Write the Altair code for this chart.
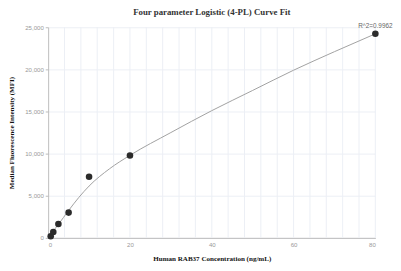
import altair as alt
import pandas as pd

# measured points
conc = [0.625, 1.25, 2.5, 5, 10, 20, 80]
mfi = [200, 700, 1650, 3000, 7250, 9780, 24220]

# fitted curve
curve_x = [0, 0.5, 1, 2.5, 5, 7.5, 10, 15, 20, 30, 40, 50, 60, 70, 80]
curve_y = [0, 300, 650, 1600, 3250, 4800, 6150, 8200, 9800, 12500, 15100, 17500, 19900, 22100, 24220]

x_ticks = [0, 20, 40, 60, 80]
x_grid = list(range(4, 81, 4))
y_ticks = [0, 5000, 10000, 15000, 20000, 25000]

r2_label = ["R^2=0.9962"]

pts = pd.DataFrame({"x": conc, "y": mfi})
crv = pd.DataFrame({"x": curve_x, "y": curve_y})
grid = pd.DataFrame({"x": x_grid})
lab = pd.DataFrame({"x": [conc[-1]], "y": [mfi[-1]], "t": r2_label})

x_scale = alt.Scale(domain=[0, 80], nice=False)
y_scale = alt.Scale(domain=[0, 25000], nice=False)

vgrid = alt.Chart(grid).mark_rule(color="#eceff5", strokeWidth=1).encode(
    x=alt.X("x:Q", scale=x_scale,
            axis=alt.Axis(values=x_ticks, title="Human RAB37 Concentration (ng/mL)", tickSize=0,
                          labelPadding=4, grid=False, titlePadding=7)),
    y=alt.value(0), y2=alt.value(215))

line = alt.Chart(crv).mark_line(color="#a0a0a0", strokeWidth=1, interpolate="monotone").encode(
    x=alt.X("x:Q", scale=x_scale),
    y=alt.Y("y:Q", scale=y_scale,
            axis=alt.Axis(values=y_ticks, format=",.0f",
                          title="Median Fluorescence Intensity (MFI)", tickSize=3, titlePadding=9)))
points = alt.Chart(pts).mark_circle(color="#2b2b2b", size=45, opacity=1).encode(x="x:Q", y="y:Q")
text = alt.Chart(lab).mark_text(fontSize=6.5, color="#666", font="Liberation Sans", dy=-8).encode(
    x="x:Q", y="y:Q", text="t:N")

chart = alt.layer(vgrid, line, points, text).properties(
    width=334, height=215,
    title=alt.TitleParams("Four parameter Logistic (4-PL) Curve Fit", font="Liberation Serif",
                          fontSize=9, fontWeight="bold", color="#333", offset=6),
    autosize="none",
    padding={"left": 41, "top": 17, "right": 18, "bottom": 23},
).configure_view(stroke=None).configure_axis(
    gridColor="#eceff5", domainColor="#bbb", tickColor="#bbb", labelColor="#999",
    labelFontSize=6.2, labelFont="Liberation Sans",
    titleFont="Liberation Serif", titleFontSize=7.2, titleFontWeight="bold", titleColor="#111",
)

chart.save("out.html", embed_options={"renderer": "svg", "actions": False})
